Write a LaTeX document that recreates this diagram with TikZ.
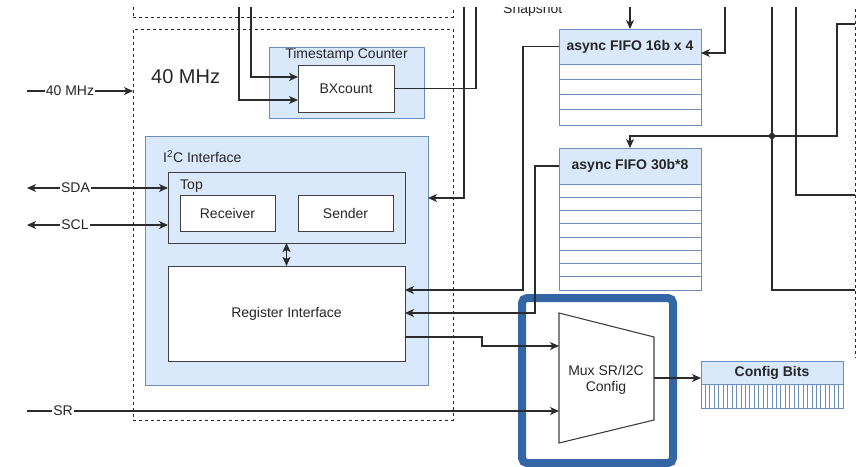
\documentclass[tikz,border=0pt]{standalone}
\usepackage{fontspec}
\setmainfont{Liberation Sans}
\usetikzlibrary{arrows.meta}
\definecolor{blfill}{HTML}{DAE8FC}
\definecolor{bldraw}{HTML}{6C8EBF}
\definecolor{ink}{HTML}{2B2B2B}
\definecolor{hlblue}{HTML}{3465A4}

\begin{document}
\begin{tikzpicture}[x=1pt,y=-1pt,
  font=\fontsize{14}{16}\selectfont, text=black!85,
  wire/.style={draw=ink, line width=1.1pt},
  arr/.style={wire, -{Stealth[length=9pt,width=8pt,inset=2.5pt]}},
  darr/.style={wire, {Stealth[length=9pt,width=8pt,inset=2.5pt]}-{Stealth[length=9pt,width=8pt,inset=2.5pt]}},
  darrsmall/.style={wire, {Stealth[length=9pt,width=8pt,inset=2pt]}-{Stealth[length=9pt,width=8pt,inset=2pt]}},
  grpbox/.style={draw=bldraw, fill=blfill, line width=1pt, inner sep=0pt, outer sep=0pt},
  blkbox/.style={draw=ink!90, fill=white, line width=1pt, inner sep=0pt, outer sep=0pt},
  ctrbox/.style={draw=ink!90, line width=1pt, inner sep=0pt, outer sep=0pt},
  fifohead/.style={grpbox, font=\bfseries\fontsize{14}{16}\selectfont},
  fiforow/.style={draw=bldraw, fill=white, line width=1pt},
  dashbox/.style={draw=ink, line width=1pt, dash pattern=on 3pt off 3pt, inner sep=0pt, outer sep=0pt},
  lbl/.style={inner sep=0pt},
  siglabel/.style={fill=white, inner sep=1pt},
]
\useasboundingbox (0,0) rectangle (856,466);
\clip (0,7) rectangle (856,466);

% clock domains (dashed)
\node[dashbox, minimum width=320pt, minimum height=60pt] (upper) at (293,-13) {};
\node[dashbox, minimum width=320pt, minimum height=391pt] (clk) at (293,224.5) {};
\node[dashbox, minimum width=200pt, minimum height=400pt] (right) at (955,157) {};
\node[lbl, anchor=west, font=\fontsize{20}{24}\selectfont] (clklabel) at (151,77) {40 MHz};
\node[lbl, anchor=base west] (snap) at (503,13) {Snapshot};

% timestamp counter
\node[grpbox, minimum width=155pt, minimum height=71pt] (ts) at (346.5,82.5) {};
\node[lbl] (tslabel) at (346.5,55) {Timestamp Counter};
\node[blkbox, minimum width=96pt, minimum height=47pt] (bx) at (346,88.5) {BXcount};

% I2C interface
\node[grpbox, minimum width=283pt, minimum height=249pt] (i2c) at (286.5,260.5) {};
\node[lbl, anchor=west] (i2clabel) at (163,157) {I\textsuperscript{2}C Interface};
\node[ctrbox, minimum width=237pt, minimum height=71pt] (top) at (286.5,207.5) {};
\node[lbl, anchor=west] (toplabel) at (180,186) {Top};
\node[blkbox, minimum width=95pt, minimum height=36pt] (rx) at (227.5,213) {Receiver};
\node[blkbox, minimum width=95pt, minimum height=36pt] (tx) at (345.5,213) {Sender};
\node[blkbox, minimum width=237pt, minimum height=95pt] (reg) at (286.5,313.5) {Register Interface};

% FIFOs
\node[fifohead, minimum width=142pt, minimum height=35pt] (f16) at (630,46.5) {async FIFO 16b x 4};
\foreach \i in {0,...,3}
  \draw[fiforow] (559,{64+15.25*\i}) rectangle ++(142,15.25);
\node[fifohead, minimum width=142pt, minimum height=36pt] (f30) at (630,166) {async FIFO 30b*8};
\foreach \i in {0,...,7}
  \draw[fiforow] (559,{184+13.25*\i}) rectangle ++(142,13.25);

% config bits register
\node[fifohead, minimum width=142pt, minimum height=23pt] (cfg) at (772,372.5) {Config Bits};
\draw[fiforow] (701,384) rectangle (843,408);
\foreach \k in {1,...,31}
  \draw[draw=bldraw, line width=0.8pt] ({701+\k*142/32},384) -- ({701+\k*142/32},408);

% highlighted multiplexer
\draw[hlblue, line width=8pt, rounded corners=5pt] (522,298) rectangle (673,463);
\draw[wire, draw=ink!90] (559,313) -- (654,337) -- (654,420) -- (559,443) -- cycle;
\node[lbl, align=center] (mux) at (606,379.5) {Mux SR/I2C\\Config};
\coordinate (muxin1) at (559,346);
\coordinate (muxin2) at (559,411);
\coordinate (muxout) at (654,378);

% free ends of connectors
\coordinate (clkin) at (27,91);
\coordinate (sda) at (27,188);
\coordinate (scl) at (27,225);
\coordinate (sr) at (27,411);
\coordinate (bxin1) at (251,-5);
\coordinate (bxin2) at (239,-5);
\coordinate (bxout) at (476,-5);
\coordinate (snapin) at (464,-5);
\coordinate (f16in) at (630,-5);
\coordinate (f16side) at (725,-5);
\coordinate (bus) at (855,24);
\coordinate (jn) at (772,136);
\coordinate (v1top) at (772,-5);
\coordinate (v1end) at (855,290);
\coordinate (v2top) at (796,-5);
\coordinate (v2end) at (855,195);

% connectors
\draw[arr] (clkin) -- (clkin -| clk.west);
\draw[darr] (sda) -- (sda -| top.west);
\draw[darr] (scl) -- (scl -| top.west);
\draw[arr] (sr) -- (muxin2);
\draw[arr] (bxin1) |- ([yshift=11.5pt]bx.west);
\draw[arr] (bxin2) |- ([yshift=-11.5pt]bx.west);
\draw[wire] (bx.east) -| (bxout);
\draw[arr] (snapin) |- ([yshift=62.5pt]i2c.east);
\draw[arr] (f16in) -- (f16.north);
\draw[arr] (f16side) |- ([yshift=-6.5pt]f16.east);
\draw[arr] (f16.west) -- ++(-36,0) |- ([yshift=23.5pt]reg.east);
\draw[arr] (f30.west) -- ++(-24,0) |- ([yshift=0.5pt]reg.east);
\draw[arr] (bus) -- ++(-18,0) -- ++(0,112) -| (f30.north);
\fill[ink] (jn) circle (3.2pt);
\draw[wire] (v1top) |- (v1end);
\draw[wire] (v2top) |- (v2end);
\draw[darrsmall] (top.south) -- (reg.north);
\draw[arr] ([yshift=-23.5pt]reg.east) -- ++(77,0) |- (muxin1);
\draw[arr] (muxout) -- (muxout -| cfg.west);

% signal labels
\node[siglabel] (clkname) at (70,91) {40 MHz};
\node[siglabel] (sdaname) at (75.5,188) {SDA};
\node[siglabel] (sclname) at (75,225) {SCL};
\node[siglabel] (srname) at (63,411) {SR};
\end{tikzpicture}
\end{document}
